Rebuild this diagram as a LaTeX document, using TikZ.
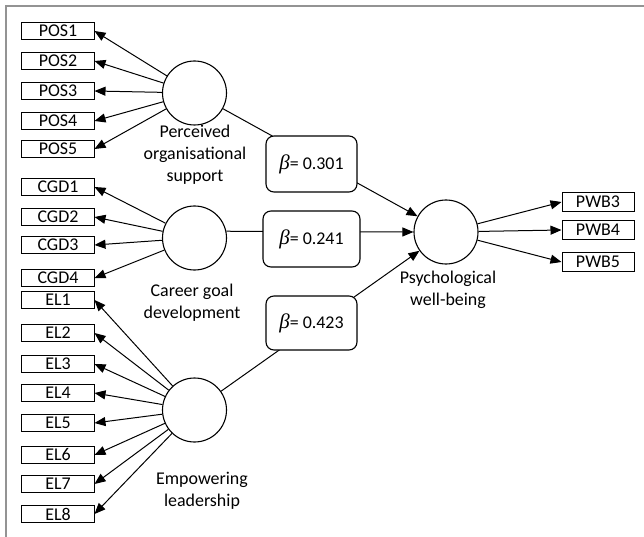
\documentclass[tikz,border=0pt]{standalone}
\usepackage{fontspec}
\setmainfont{Carlito}
\newfontfamily\grkfont{Liberation Serif}
\newcommand{\betasym}{{\grkfont\itshape\fontsize{21}{22}\selectfont β}}
\usetikzlibrary{arrows.meta}
\begin{document}
\begin{tikzpicture}[x=1bp,y=-1bp,
  every node/.style={font=\fontsize{18}{22}\selectfont},
  ind/.style={draw,line width=1bp,minimum width=72bp,minimum height=17.5bp,inner sep=0pt},
  lat/.style={draw,circle,line width=1.1bp,minimum size=64bp,inner sep=0pt},
  betabox/.style={draw,rounded corners=8bp,line width=1.1bp,minimum width=91bp,minimum height=56bp,inner sep=0pt,fill=white},
  lbl/.style={align=center,inner sep=0pt},
  arr/.style={line width=1bp,-{Triangle[length=11bp,width=9bp]}},
  lin/.style={line width=1bp}
]
\useasboundingbox (0,0) rectangle (644,537);
\draw[gray!85, line width=2bp] (6,537) -- (6,6) -- (644,6);

% latent variables
\node[lat] (pos) at (194.5,93) {};
\node[lat] (cgd) at (194.5,238) {};
\node[lat] (el) at (194.5,410) {};
\node[lat] (pwb) at (446,232) {};

% labels
\node[lbl] (lpos) at (195,155) {Perceived\\organisational\\support};
\node[lbl] (lcgd) at (192,303) {Career goal\\development};
\node[lbl] (lel) at (202,491) {Empowering\\leadership};
\node[lbl] (lpwb) at (448,290) {Psychological\\well-being};

% indicators
\node[ind] (pos1) at (58,31) {POS1};
\node[ind] (pos2) at (58,61) {POS2};
\node[ind] (pos3) at (58,91) {POS3};
\node[ind] (pos4) at (58,121) {POS4};
\node[ind] (pos5) at (58,149) {POS5};
\node[ind] (cgd1) at (58,187) {CGD1};
\node[ind] (cgd2) at (58,217) {CGD2};
\node[ind] (cgd3) at (58,245) {CGD3};
\node[ind] (cgd4) at (58,278) {CGD4};
\node[ind] (el1) at (58,300) {EL1};
\node[ind] (el2) at (58,333) {EL2};
\node[ind] (el3) at (58,364) {EL3};
\node[ind] (el4) at (58,393) {EL4};
\node[ind] (el5) at (58,423) {EL5};
\node[ind] (el6) at (58,455) {EL6};
\node[ind] (el7) at (58,484) {EL7};
\node[ind] (el8) at (58,514) {EL8};
\node[ind,minimum height=19bp] (pwb3) at (598,202) {PWB3};
\node[ind,minimum height=19bp] (pwb4) at (598,230) {PWB4};
\node[ind,minimum height=19bp] (pwb5) at (598,262) {PWB5};

% measurement arrows
\foreach \i in {1,...,5} \draw[arr] (pos) -- (pos\i.east);
\foreach \i in {1,...,4} \draw[arr] (cgd) -- (cgd\i.east);
\foreach \i in {1,...,8} \draw[arr] (el) -- (el\i.east);
\foreach \i in {3,4,5} \draw[arr] (pwb) -- (pwb\i.west);

% structural paths
\draw[arr] (pos) -- (pwb);
\draw[arr] (cgd.12) -- (pwb.west);
\draw[arr] (el) -- (pwb);

% coefficients
\node[betabox] (b1) at (311.5,164) {\betasym= 0.301};
\node[betabox,minimum width=97bp] (b2) at (311.5,239) {\betasym= 0.241};
\node[betabox,minimum height=54bp] (b3) at (311.5,323) {\betasym= 0.423};
\end{tikzpicture}
\end{document}
